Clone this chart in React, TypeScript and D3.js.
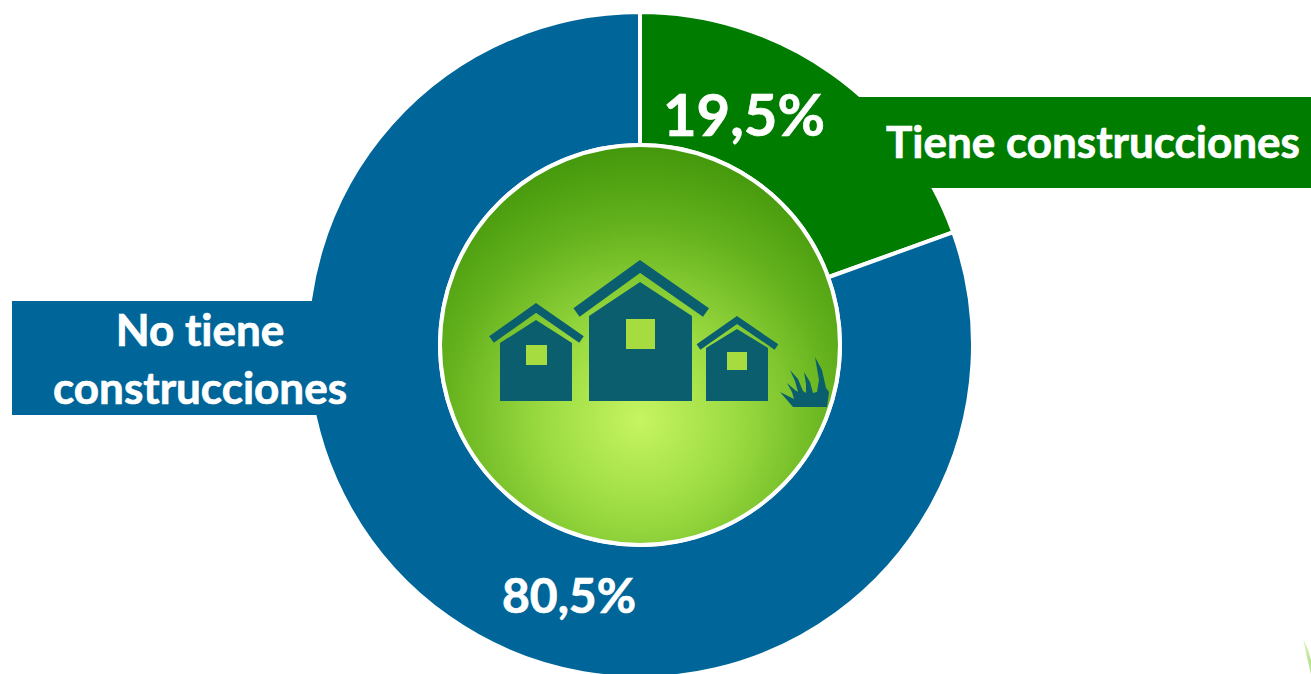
import React from "react";
import * as d3 from "d3";

// Dimensions
const width = 1311;
const height = 674;
const cx = 640;
const cy = 345;
const outerRadius = 333;
const innerRadius = 200;

// Data
const categories = ["Tiene construcciones", "No tiene construcciones"];
const shares = [19.5, 80.5];
const shareLabels = ["19,5%", "80,5%"];

// Colours
const colours = ["#007d00", "#006699"];
const iconColour = "#0b5e6e";

// House icon: body box, apex of the wall, roof chevron and window
const houses = [
  { left: 500, right: 572, mid: 536, eave: 343, apex: 320, roofL: 491.5, roofR: 581.5, roofY: 339.5, roofTop: 308, roofW: 8, win: [526, 345, 21, 20] },
  { left: 589, right: 692, mid: 640, eave: 316, apex: 282, roofL: 576.5, roofR: 706, roofY: 312.5, roofTop: 266.5, roofW: 10.5, win: [626, 319, 29, 30] },
  { left: 706, right: 768, mid: 737, eave: 348, apex: 329, roofL: 698.5, roofR: 776.5, roofY: 347, roofTop: 320, roofW: 6.5, win: [727, 352, 20, 18] },
];
const groundY = 401;

const grassPath =
  "M793,407 L787,400 L780,392 L790,397 L794,399 L792,392 L787,383 L795,390 L798,392 L795,381 L790,370 L798,379 L803,391 L806,393 L806,384 L804,372 L810,382 L813,393 L817,392 L819,380 L815,357 L822,370 L826,388 L829,392 L827,407 Z";

const App = () => {
  const pie = d3
    .pie<number>()
    .sort(null)
    .startAngle(0)
    .endAngle(2 * Math.PI);
  const arc = d3
    .arc<d3.PieArcDatum<number>>()
    .innerRadius(innerRadius)
    .outerRadius(outerRadius);
  const slices = pie(shares);

  const roofLine = d3.line();

  return (
    <svg
      width={width}
      height={height}
      style={{ position: "absolute", left: 0, top: 0, display: "block", background: "#fff", fontVariantLigatures: "none" }}
      fontFamily="Lato, 'Open Sans', sans-serif"
      fontWeight={700}
    >
      <defs>
        <radialGradient id="centre" gradientUnits="userSpaceOnUse" cx={640} cy={420} r={285}>
          <stop offset="0" stopColor="#c6f562" />
          <stop offset="0.35" stopColor="#9ada40" />
          <stop offset="0.7" stopColor="#62b01c" />
          <stop offset="1" stopColor="#3f9409" />
        </radialGradient>
        <clipPath id="centreClip">
          <circle cx={cx} cy={cy} r={innerRadius - 2} />
        </clipPath>
        <linearGradient id="leaf" x1="0" y1="0" x2="1" y2="0.3">
          <stop offset="0" stopColor="#e6f5d0" />
          <stop offset="1" stopColor="#b9e28c" />
        </linearGradient>
      </defs>

      {/* Leaf tip in the corner */}
      <path d="M1303,638 Q1306,655 1311,674 L1311,660 Q1308,648 1303,638 Z" fill="url(#leaf)" />

      {/* Ring */}
      <g transform={`translate(${cx},${cy})`}>
        {slices.map((d, i) => (
          <path key={categories[i]} d={arc(d) ?? ""} fill={colours[i]} stroke="#fff" strokeWidth={4} />
        ))}
      </g>

      {/* Label bands */}
      <rect x={858} y={97} width={width - 858} height={91} fill={colours[0]} />
      <rect x={12} y={301} width={308} height={114} fill={colours[1]} />

      {/* Centre disc and icon */}
      <circle cx={cx} cy={cy} r={innerRadius} fill="url(#centre)" stroke="#fff" strokeWidth={4} />
      <g fill={iconColour}>
        {houses.map((h) => (
          <g key={h.mid}>
            <path
              d={`M${h.left},${groundY}V${h.eave}L${h.mid},${h.apex}L${h.right},${h.eave}V${groundY}Z`}
            />
            <path
              d={roofLine([
                [h.roofL, h.roofY],
                [h.mid, h.roofTop],
                [h.roofR, h.roofY],
              ]) ?? ""}
              fill="none"
              stroke={iconColour}
              strokeWidth={h.roofW}
              strokeLinejoin="miter"
            />
            <rect x={h.win[0]} y={h.win[1]} width={h.win[2]} height={h.win[3]} fill="#a6dc3f" />
          </g>
        ))}
        {/* Grass */}
        <path clipPath="url(#centreClip)" d={grassPath} />
      </g>

      {/* Text */}
      <g fill="#fff" stroke="#fff" strokeWidth={0.7} textAnchor="middle">
        <text x={744} y={136} fontSize={58}>
          {shareLabels[0]}
        </text>
        <text x={569} y={613} fontSize={48}>
          {shareLabels[1]}
        </text>
        <text x={1093} y={158} fontSize={44}>
          {categories[0]}
        </text>
        <text x={200} y={346} fontSize={44}>
          No tiene
        </text>
        <text x={200} y={404} fontSize={44}>
          construcciones
        </text>
      </g>
    </svg>
  );
};

export default App;
